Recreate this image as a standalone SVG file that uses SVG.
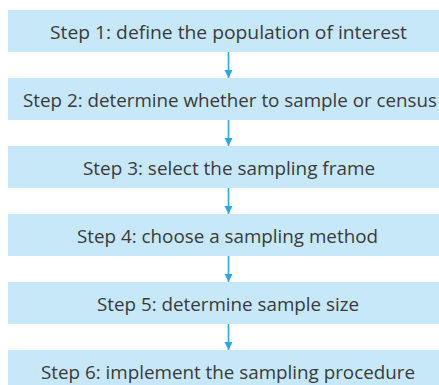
<svg xmlns="http://www.w3.org/2000/svg" width="439" height="385" viewBox="0 0 439 385">
<defs>
<style>
.box{fill:#c7e8f8;}
.lbl{font-family:"Open Sans","Noto Sans","DejaVu Sans",sans-serif;font-size:18.5px;fill:#3a3a3a;text-anchor:middle;}
.conn{stroke:#29a9e1;stroke-width:1.6;fill:none;}
</style>
<marker id="ah" viewBox="0 0 8 10" refX="8" refY="5" markerWidth="8" markerHeight="10" markerUnits="userSpaceOnUse" orient="auto">
<path d="M0,1 L8,5 L0,9 Z" fill="#29a9e1"/>
</marker>
</defs>
<rect width="439" height="385" fill="#ffffff"/>
<g id="step1"><rect class="box" x="8" y="10" width="442" height="42"/><text class="lbl" x="228.5" y="39" textLength="357" lengthAdjust="spacingAndGlyphs">Step 1: define the population of interest</text></g>
<g id="step2"><rect class="box" x="8" y="78" width="442" height="42"/><text class="lbl" x="230" y="107" textLength="414" lengthAdjust="spacingAndGlyphs">Step 2: determine whether to sample or census</text></g>
<g id="step3"><rect class="box" x="8" y="146" width="442" height="42"/><text class="lbl" x="229" y="175" textLength="292" lengthAdjust="spacingAndGlyphs">Step 3: select the sampling frame</text></g>
<g id="step4"><rect class="box" x="8" y="214" width="442" height="42"/><text class="lbl" x="227.5" y="243" textLength="301" lengthAdjust="spacingAndGlyphs">Step 4: choose a sampling method</text></g>
<g id="step5"><rect class="box" x="8" y="282" width="442" height="42"/><text class="lbl" x="228" y="311" textLength="262" lengthAdjust="spacingAndGlyphs">Step 5: determine sample size</text></g>
<g id="step6"><rect class="box" x="8" y="350" width="442" height="42"/><text class="lbl" x="228" y="379" textLength="374" lengthAdjust="spacingAndGlyphs">Step 6: implement the sampling procedure</text></g>
<g id="connectors">
<line class="conn" x1="228.5" y1="52" x2="228.5" y2="78" marker-end="url(#ah)"/>
<line class="conn" x1="228.5" y1="120" x2="228.5" y2="146" marker-end="url(#ah)"/>
<line class="conn" x1="228.5" y1="188" x2="228.5" y2="214" marker-end="url(#ah)"/>
<line class="conn" x1="228.5" y1="256" x2="228.5" y2="282" marker-end="url(#ah)"/>
<line class="conn" x1="228.5" y1="324" x2="228.5" y2="350" marker-end="url(#ah)"/>
</g>
</svg>
